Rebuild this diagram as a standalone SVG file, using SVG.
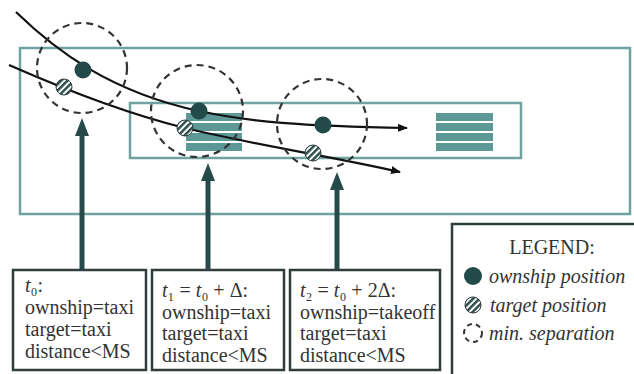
<svg xmlns="http://www.w3.org/2000/svg" width="634" height="374" viewBox="0 0 634 374">
<style>
.area{fill:none;stroke:#6ea3a1;stroke-width:2.5}
.stripe{fill:#5c9896}
.sep{fill:none;stroke:#333;stroke-width:2.2;stroke-dasharray:7 5}
.traj{fill:none;stroke:#111;stroke-width:2.2}
.own{fill:#214a48}
.tgt{fill:url(#hatch);stroke:#2b3a39;stroke-width:1}
.conn{stroke:#264a48;stroke-width:5;fill:none}
.box{fill:#fff;stroke:#2f3d3c;stroke-width:2.5}
text{font-family:'Liberation Serif','Times New Roman','DejaVu Serif',serif;font-size:20px;fill:#333}
.it{font-style:italic}
</style>
<defs>
<pattern id="hatch" width="4.5" height="4.5" patternUnits="userSpaceOnUse" patternTransform="rotate(45)">
<rect width="4.5" height="4.5" fill="#fff"/>
<rect width="2.5" height="4.5" fill="#2f4f4d"/>
</pattern>
<marker id="ah" viewBox="0 0 10 8" refX="9" refY="4" markerWidth="10" markerHeight="8" markerUnits="userSpaceOnUse" orient="auto">
<path d="M0,0 L10,4 L0,8 z" fill="#111"/>
</marker>
<marker id="th" viewBox="0 0 18 14" refX="0" refY="7" markerWidth="18" markerHeight="14" markerUnits="userSpaceOnUse" orient="auto">
<path d="M0,0 L18,7 L0,14 z" fill="#264a48"/>
</marker>
</defs>

<g id="airport">
<rect class="area" x="20" y="48" width="610" height="166"/>
<rect class="area" x="130" y="103" width="391" height="55" stroke-width="3"/>
<g id="runway1">
<rect class="stripe" x="186" y="113" width="56" height="8"/>
<rect class="stripe" x="186" y="123" width="56" height="8"/>
<rect class="stripe" x="186" y="133" width="56" height="8"/>
<rect class="stripe" x="186" y="143" width="56" height="8"/>
</g>
<g id="runway2">
<rect class="stripe" x="436" y="113" width="57" height="8"/>
<rect class="stripe" x="436" y="123" width="57" height="8"/>
<rect class="stripe" x="436" y="133" width="57" height="8"/>
<rect class="stripe" x="436" y="143" width="57" height="8"/>
</g>
</g>

<g id="connectors">
<path class="traj" d="M16,12 C55,50 110,92 199,111 C250,122 300,126 407,128" marker-end="url(#ah)"/>
<path class="traj" d="M9,65 C50,83 120,112 185,128 C250,144 330,156 400,172" marker-end="url(#ah)"/>
<line class="conn" x1="82" y1="270" x2="82" y2="136" marker-end="url(#th)"/>
<line class="conn" x1="208" y1="270" x2="208" y2="181" marker-end="url(#th)"/>
<line class="conn" x1="337" y1="270" x2="337" y2="190" marker-end="url(#th)"/>
</g>

<g id="t0">
<circle class="sep" cx="82" cy="68" r="45"/>
<circle class="own" cx="83" cy="70" r="8.5"/>
<circle class="tgt" cx="64" cy="87" r="8"/>
</g>
<g id="t1">
<circle class="sep" cx="197" cy="111" r="46"/>
<circle class="own" cx="199" cy="111" r="8.5"/>
<circle class="tgt" cx="185" cy="128" r="8"/>
</g>
<g id="t2">
<circle class="sep" cx="322" cy="124" r="45"/>
<circle class="own" cx="323" cy="125" r="8.5"/>
<circle class="tgt" cx="313" cy="153" r="8"/>
</g>

<g id="box0">
<rect class="box" x="13" y="270" width="133" height="100"/>
<text x="25" y="292"><tspan class="it">t</tspan>₀:</text>
<text x="25" y="314">ownship=taxi</text>
<text x="25" y="336">target=taxi</text>
<text x="25" y="358">distance&lt;MS</text>
</g>
<g id="box1">
<rect class="box" x="152" y="270" width="132" height="100"/>
<text x="162" y="297"><tspan class="it">t</tspan>₁ = <tspan class="it">t</tspan>₀ + Δ:</text>
<text x="162" y="319">ownship=taxi</text>
<text x="162" y="340">target=taxi</text>
<text x="162" y="362">distance&lt;MS</text>
</g>
<g id="box2">
<rect class="box" x="290" y="270" width="150" height="100"/>
<text x="300" y="297"><tspan class="it">t</tspan>₂ = <tspan class="it">t</tspan>₀ + 2Δ:</text>
<text x="300" y="319">ownship=takeoff</text>
<text x="300" y="340">target=taxi</text>
<text x="300" y="362">distance&lt;MS</text>
</g>

<g id="legend">
<rect class="box" x="452" y="224" width="200" height="170"/>
<text x="552" y="254" text-anchor="middle">LEGEND:</text>
<circle class="own" cx="473" cy="276" r="9"/>
<text class="it" x="489" y="283">ownship position</text>
<circle class="tgt" cx="473" cy="305" r="8"/>
<text class="it" x="490" y="312">target position</text>
<circle cx="473" cy="333" r="9" fill="none" stroke="#333" stroke-width="2" stroke-dasharray="5 4"/>
<text class="it" x="489" y="340">min. separation</text>
</g>
</svg>
